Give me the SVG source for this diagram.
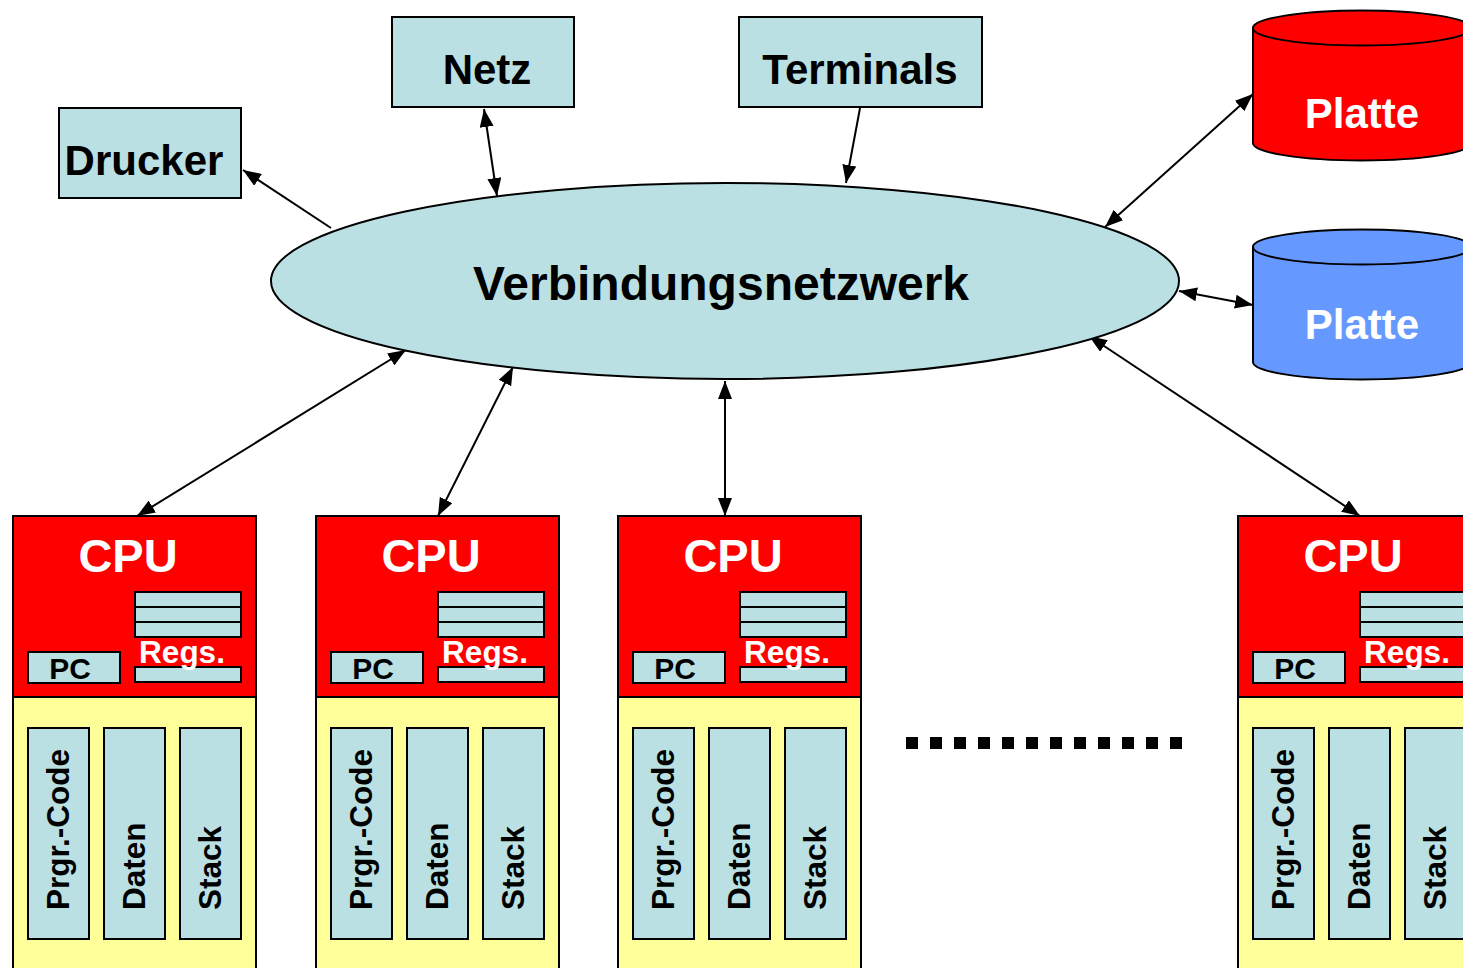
<svg xmlns="http://www.w3.org/2000/svg" width="1463" height="968" viewBox="0 0 1463 968">
<style>
.box{fill:#BBE0E3;stroke:#000;stroke-width:2}
.lbl{font-family:"Liberation Sans",Arial,sans-serif;font-weight:bold;fill:#000;text-anchor:middle}
.wl{font-family:"Liberation Sans",Arial,sans-serif;font-weight:bold;fill:#fff;text-anchor:middle}
.vt{font-family:"Liberation Sans",Arial,sans-serif;font-weight:bold;fill:#000;font-size:31.5px}
.cpu{fill:#FF0000;stroke:#000;stroke-width:2}
.mem{fill:#FFFF99;stroke:#000;stroke-width:2}
.con{stroke:#000;stroke-width:2;fill:none}
</style>
<defs>
<marker id="ah" markerUnits="userSpaceOnUse" markerWidth="18" markerHeight="14" viewBox="0 0 18 14" refX="18" refY="7" orient="auto-start-reverse">
<path d="M0,0 L18,7 L0,14 z" fill="#000"/>
</marker>
<g id="cputpl">
<rect class="mem" x="0" y="181" width="243" height="300"/>
<rect class="cpu" x="0" y="0" width="243" height="181"/>
<text class="wl" x="115" y="56" font-size="47">CPU</text>
<rect class="box" x="122" y="76" width="106" height="45"/>
<line x1="122" y1="91" x2="228" y2="91" stroke="#000" stroke-width="2"/>
<line x1="122" y1="106" x2="228" y2="106" stroke="#000" stroke-width="2"/>
<rect class="box" x="122" y="151" width="106" height="15"/>
<text class="wl" x="169" y="147" font-size="31.5">Regs.</text>
<rect class="box" x="15" y="136" width="92" height="31"/>
<text class="lbl" x="57" y="163" font-size="30">PC</text>
<rect class="box" x="15" y="212" width="61" height="211"/>
<rect class="box" x="91" y="212" width="61" height="211"/>
<rect class="box" x="167" y="212" width="61" height="211"/>
<text class="vt" transform="translate(56,394) rotate(-90)">Prgr.-Code</text>
<text class="vt" transform="translate(132,394) rotate(-90)">Daten</text>
<text class="vt" transform="translate(208,394) rotate(-90)">Stack</text>
</g>
</defs>
<rect width="1463" height="968" fill="#fff"/>

<g id="connectors">
<line class="con" x1="331" y1="228" x2="243" y2="170" marker-end="url(#ah)"/>
<line class="con" x1="484" y1="109" x2="497" y2="196" marker-start="url(#ah)" marker-end="url(#ah)"/>
<line class="con" x1="860" y1="108" x2="846" y2="183" marker-end="url(#ah)"/>
<line class="con" x1="1105" y1="227" x2="1253" y2="94" marker-start="url(#ah)" marker-end="url(#ah)"/>
<line class="con" x1="1179" y1="291" x2="1253" y2="305" marker-start="url(#ah)" marker-end="url(#ah)"/>
<line class="con" x1="406" y1="350" x2="137" y2="516" marker-start="url(#ah)" marker-end="url(#ah)"/>
<line class="con" x1="513" y1="367" x2="438" y2="516" marker-start="url(#ah)" marker-end="url(#ah)"/>
<line class="con" x1="725" y1="381" x2="725" y2="516" marker-start="url(#ah)" marker-end="url(#ah)"/>
<line class="con" x1="1089" y1="336" x2="1360" y2="516" marker-start="url(#ah)" marker-end="url(#ah)"/>
</g>

<g id="netzwerk">
<ellipse cx="725" cy="281" rx="454" ry="98" fill="#BBE0E3" stroke="#000" stroke-width="2"/>
<text class="lbl" x="721" y="300" font-size="48">Verbindungsnetzwerk</text>
</g>

<g id="drucker">
<rect class="box" x="59" y="108" width="182" height="90"/>
<text class="lbl" x="144" y="175" font-size="42">Drucker</text>
</g>
<g id="netz">
<rect class="box" x="392" y="17" width="182" height="90"/>
<text class="lbl" x="487" y="84" font-size="42">Netz</text>
</g>
<g id="terminals">
<rect class="box" x="739" y="17" width="243" height="90"/>
<text class="lbl" x="860" y="84" font-size="42">Terminals</text>
</g>

<g id="platte1">
<path d="M1253,28 L1253,143 A109,17.5 0 0 0 1471,143 L1471,28 Z" fill="#FF0000" stroke="#000" stroke-width="2"/>
<ellipse cx="1362" cy="28" rx="109" ry="17.5" fill="#FF0000" stroke="#000" stroke-width="2"/>
<text class="wl" x="1362" y="128" font-size="42">Platte</text>
</g>
<g id="platte2">
<path d="M1253,247 L1253,362 A109,17.5 0 0 0 1471,362 L1471,247 Z" fill="#6699FF" stroke="#000" stroke-width="2"/>
<ellipse cx="1362" cy="247" rx="109" ry="17.5" fill="#6699FF" stroke="#000" stroke-width="2"/>
<text class="wl" x="1362" y="339" font-size="42">Platte</text>
</g>

<g id="cpu1"><use href="#cputpl" transform="translate(13,516)"/></g>
<g id="cpu2"><use href="#cputpl" transform="translate(316,516)"/></g>
<g id="cpu3"><use href="#cputpl" transform="translate(618,516)"/></g>
<g id="cpu4"><use href="#cputpl" transform="translate(1238,516)"/></g>

<g id="dots">
<line x1="906" y1="743" x2="1182" y2="743" stroke="#000" stroke-width="12" stroke-dasharray="12 12"/>
</g>
</svg>
